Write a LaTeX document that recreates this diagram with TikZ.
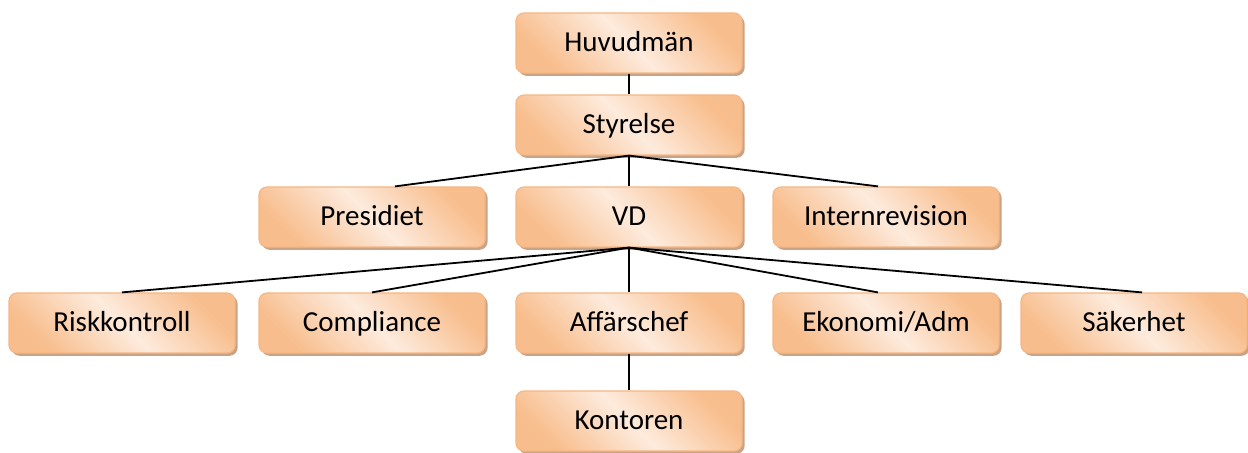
\documentclass[tikz,border=0pt]{standalone}
\usepackage{fontspec}
\setmainfont{Carlito}
\usetikzlibrary{shadows}
\definecolor{boxdark}{HTML}{F8BD8C}
\definecolor{boxlight}{HTML}{FDEBDD}
\definecolor{boxline}{HTML}{F6B784}
\definecolor{boxshadow}{HTML}{C9A386}
\pgfdeclarehorizontalshading{orgshade}{100bp}{color(0bp)=(boxdark); color(25bp)=(boxdark); color(50bp)=(boxlight); color(75bp)=(boxdark); color(100bp)=(boxdark)}
\begin{document}
\begin{tikzpicture}[x=0.5pt,y=-0.5pt,
    orgbox/.style={draw=boxline,line width=0.6pt,rounded corners=4pt,shading=orgshade,shading angle=45,
        minimum width=113pt,minimum height=30pt,inner sep=0pt,text height=11pt,text depth=2pt,
        font=\fontsize{14.5}{16}\selectfont,
        general shadow={fill=boxshadow,shadow xshift=1.3pt,shadow yshift=-1.4pt}},
    link/.style={line width=0.9pt}]
    \useasboundingbox (0,0) rectangle (1248,453);
    \node[orgbox] (owner) at (629,43) {Huvudmän};
    \node[orgbox] (board) at (629,125) {Styrelse};
    \node[orgbox] (pres) at (372,217) {Presidiet};
    \node[orgbox] (ceo) at (629,217) {VD};
    \node[orgbox] (audit) at (886,217) {Internrevision};
    \node[orgbox] (risk) at (122,323) {Riskkontroll};
    \node[orgbox] (comp) at (372,323) {Compliance};
    \node[orgbox] (biz) at (629,323) {Affärschef};
    \node[orgbox] (econ) at (886,323) {Ekonomi/Adm};
    \node[orgbox] (safe) at (1134,323) {Säkerhet};
    \node[orgbox] (office) at (629,421) {Kontoren};
    \draw[link] (owner.south) -- (board.north);
    \draw[link] (board.south) -- ([xshift=11.5pt]pres.north);
    \draw[link] (board.south) -- (ceo.north);
    \draw[link] (board.south) -- ([xshift=-4pt]audit.north);
    \draw[link] (ceo.south) -- (risk.north);
    \draw[link] (ceo.south) -- (comp.north);
    \draw[link] (ceo.south) -- (biz.north);
    \draw[link] (ceo.south) -- ([xshift=-4pt]econ.north);
    \draw[link] (ceo.south) -- ([xshift=4pt]safe.north);
    \draw[link] (biz.south) -- (office.north);
\end{tikzpicture}
\end{document}
